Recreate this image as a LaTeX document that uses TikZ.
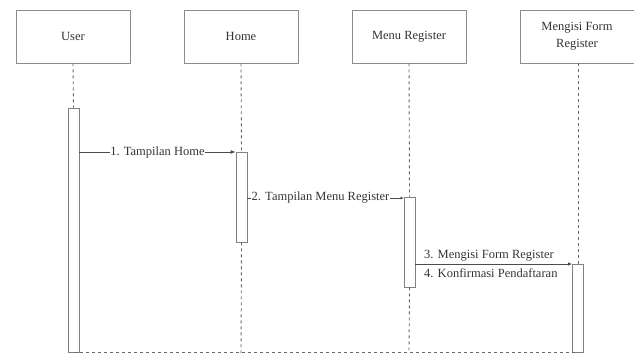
\documentclass[tikz,border=0pt]{standalone}
\usepackage{fontspec}
\setmainfont{Liberation Serif}
\usetikzlibrary{arrows.meta,positioning}
\begin{document}
\begin{tikzpicture}[x=1pt,y=-1pt,
  txt/.style={font=\fontsize{12.5}{17}\selectfont,text=black!80},
  actor/.style={txt,draw=black!45,line width=0.9pt,fill=white,minimum width=114pt,minimum height=53pt,
    align=center,inner sep=0pt},
  act/.style={draw=black!50,line width=0.8pt,fill=white,minimum width=11pt,inner sep=0pt},
  life/.style={draw=black!60,line width=0.9pt,dash pattern=on 3pt off 3pt},
  msg/.style={draw=black!70,line width=0.8pt},
  lbl/.style={txt,fill=white,inner sep=0.5pt}
]
\useasboundingbox (0,0) rectangle (634,356);

% lifeline heads
\node[actor] (user) at (73,36.5) {User};
\node[actor] (home) at (241,36.5) {Home};
\node[actor] (menu) at (409,36.5) {Menu Register};
\node[actor] (form) at (577,36.5) {Mengisi Form\\Register};

% activation bars
\node[act,minimum height=244pt] (auser) at (73.5,230) {};
\node[act,minimum height=90pt] (ahome) at (241.5,197) {};
\node[act,minimum height=90pt] (amenu) at (409.5,242) {};
\node[act,minimum height=88pt] (aform) at (578,308) {};

% dashed lifelines
\draw[life] (user.south) -- (auser.north);
\draw[life] (home.south) -- (ahome.north);
\draw[life] (ahome.south) -- (241,356);
\draw[life] (menu.south) -- (amenu.north);
\draw[life] (amenu.south) -- (409,352);
\draw[life] (aform.north |- form.south) -- (aform.north);

% messages
\coordinate (m1s) at (auser.east |- 0,152);
\coordinate (m1e) at (ahome.west |- 0,152);
\draw[msg,-{Latex[length=5pt,width=4pt]}] (m1s) -- (m1e)
  node[lbl,pos=0.5] (l1) {1. Tampilan Home};

\coordinate (m2s) at (ahome.east |- 0,198);
\coordinate (m2e) at (amenu.west |- 0,198);
\draw[msg,-{Latex[length=3pt,width=3pt]}] (m2s) -- (m2e);
\node[lbl,anchor=west] (l2) at (251,198) {2. Tampilan Menu Register};

\coordinate (m3s) at (amenu.east |- 0,264);
\coordinate (m3e) at (aform.west |- 0,264);
\draw[msg,-{Latex[length=4pt,width=3.5pt]}] (m3s) -- (m3e);
\node[txt,anchor=west,inner sep=0pt] (l3) at (424,256) {3. Mengisi Form Register};
\node[txt,anchor=west,inner sep=0pt] (l4) at (424,273.5) {4. Konfirmasi Pendaftaran};

% closing dashed line along the bottom
\draw[life] (auser.south) -- (aform.south);
\end{tikzpicture}
\end{document}
